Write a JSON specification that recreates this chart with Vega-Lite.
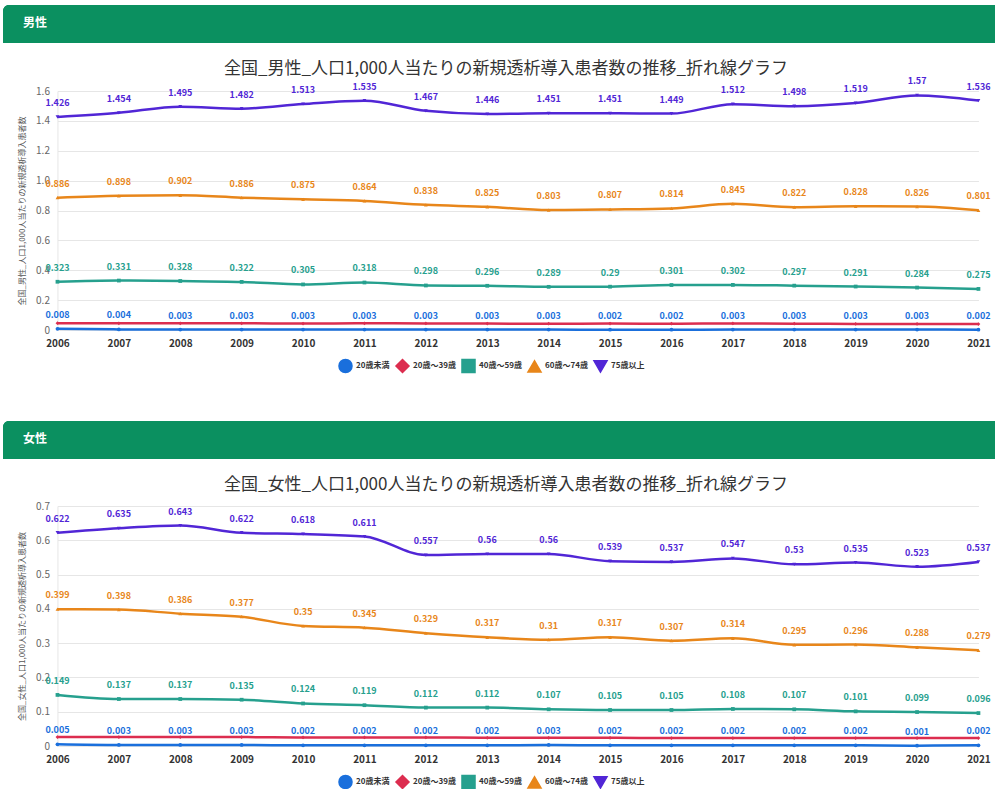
{
  "$schema": "https://vega.github.io/schema/vega-lite/v6.json",
  "background": "white",
  "padding": {"left": 3, "top": 5, "right": 0, "bottom": 0},
  "config": {
    "font": "Noto Sans CJK JP",
    "view": {"stroke": null},
    "legend": {"layout": {"bottom": {"anchor": "middle"}}}
  },
  "datasets": {
    "male": [
      {"year": "2006", "20歳未満": 0.008, "20歳～39歳": 0.046, "40歳～59歳": 0.323, "60歳～74歳": 0.886, "75歳以上": 1.426},
      {"year": "2007", "20歳未満": 0.004, "20歳～39歳": 0.045, "40歳～59歳": 0.331, "60歳～74歳": 0.898, "75歳以上": 1.454},
      {"year": "2008", "20歳未満": 0.003, "20歳～39歳": 0.045, "40歳～59歳": 0.328, "60歳～74歳": 0.902, "75歳以上": 1.495},
      {"year": "2009", "20歳未満": 0.003, "20歳～39歳": 0.045, "40歳～59歳": 0.322, "60歳～74歳": 0.886, "75歳以上": 1.482},
      {"year": "2010", "20歳未満": 0.003, "20歳～39歳": 0.043, "40歳～59歳": 0.305, "60歳～74歳": 0.875, "75歳以上": 1.513},
      {"year": "2011", "20歳未満": 0.003, "20歳～39歳": 0.045, "40歳～59歳": 0.318, "60歳～74歳": 0.864, "75歳以上": 1.535},
      {"year": "2012", "20歳未満": 0.003, "20歳～39歳": 0.044, "40歳～59歳": 0.298, "60歳～74歳": 0.838, "75歳以上": 1.467},
      {"year": "2013", "20歳未満": 0.003, "20歳～39歳": 0.043, "40歳～59歳": 0.296, "60歳～74歳": 0.825, "75歳以上": 1.446},
      {"year": "2014", "20歳未満": 0.003, "20歳～39歳": 0.042, "40歳～59歳": 0.289, "60歳～74歳": 0.803, "75歳以上": 1.451},
      {"year": "2015", "20歳未満": 0.002, "20歳～39歳": 0.043, "40歳～59歳": 0.29, "60歳～74歳": 0.807, "75歳以上": 1.451},
      {"year": "2016", "20歳未満": 0.002, "20歳～39歳": 0.042, "40歳～59歳": 0.301, "60歳～74歳": 0.814, "75歳以上": 1.449},
      {"year": "2017", "20歳未満": 0.003, "20歳～39歳": 0.044, "40歳～59歳": 0.302, "60歳～74歳": 0.845, "75歳以上": 1.512},
      {"year": "2018", "20歳未満": 0.003, "20歳～39歳": 0.042, "40歳～59歳": 0.297, "60歳～74歳": 0.822, "75歳以上": 1.498},
      {"year": "2019", "20歳未満": 0.003, "20歳～39歳": 0.041, "40歳～59歳": 0.291, "60歳～74歳": 0.828, "75歳以上": 1.519},
      {"year": "2020", "20歳未満": 0.003, "20歳～39歳": 0.041, "40歳～59歳": 0.284, "60歳～74歳": 0.826, "75歳以上": 1.57},
      {"year": "2021", "20歳未満": 0.002, "20歳～39歳": 0.04, "40歳～59歳": 0.275, "60歳～74歳": 0.801, "75歳以上": 1.536}
    ],
    "female": [
      {"year": "2006", "20歳未満": 0.005, "20歳～39歳": 0.026, "40歳～59歳": 0.149, "60歳～74歳": 0.399, "75歳以上": 0.622},
      {"year": "2007", "20歳未満": 0.003, "20歳～39歳": 0.026, "40歳～59歳": 0.137, "60歳～74歳": 0.398, "75歳以上": 0.635},
      {"year": "2008", "20歳未満": 0.003, "20歳～39歳": 0.026, "40歳～59歳": 0.137, "60歳～74歳": 0.386, "75歳以上": 0.643},
      {"year": "2009", "20歳未満": 0.003, "20歳～39歳": 0.026, "40歳～59歳": 0.135, "60歳～74歳": 0.377, "75歳以上": 0.622},
      {"year": "2010", "20歳未満": 0.002, "20歳～39歳": 0.025, "40歳～59歳": 0.124, "60歳～74歳": 0.35, "75歳以上": 0.618},
      {"year": "2011", "20歳未満": 0.002, "20歳～39歳": 0.025, "40歳～59歳": 0.119, "60歳～74歳": 0.345, "75歳以上": 0.611},
      {"year": "2012", "20歳未満": 0.002, "20歳～39歳": 0.025, "40歳～59歳": 0.112, "60歳～74歳": 0.329, "75歳以上": 0.557},
      {"year": "2013", "20歳未満": 0.002, "20歳～39歳": 0.024, "40歳～59歳": 0.112, "60歳～74歳": 0.317, "75歳以上": 0.56},
      {"year": "2014", "20歳未満": 0.003, "20歳～39歳": 0.024, "40歳～59歳": 0.107, "60歳～74歳": 0.31, "75歳以上": 0.56},
      {"year": "2015", "20歳未満": 0.002, "20歳～39歳": 0.024, "40歳～59歳": 0.105, "60歳～74歳": 0.317, "75歳以上": 0.539},
      {"year": "2016", "20歳未満": 0.002, "20歳～39歳": 0.023, "40歳～59歳": 0.105, "60歳～74歳": 0.307, "75歳以上": 0.537},
      {"year": "2017", "20歳未満": 0.002, "20歳～39歳": 0.023, "40歳～59歳": 0.108, "60歳～74歳": 0.314, "75歳以上": 0.547},
      {"year": "2018", "20歳未満": 0.002, "20歳～39歳": 0.023, "40歳～59歳": 0.107, "60歳～74歳": 0.295, "75歳以上": 0.53},
      {"year": "2019", "20歳未満": 0.002, "20歳～39歳": 0.023, "40歳～59歳": 0.101, "60歳～74歳": 0.296, "75歳以上": 0.535},
      {"year": "2020", "20歳未満": 0.001, "20歳～39歳": 0.023, "40歳～59歳": 0.099, "60歳～74歳": 0.288, "75歳以上": 0.523},
      {"year": "2021", "20歳未満": 0.002, "20歳～39歳": 0.023, "40歳～59歳": 0.096, "60歳～74歳": 0.279, "75歳以上": 0.537}
    ],
    "hdr1": [{"label": "男性"}],
    "hdr2": [{"label": "女性"}]
  },
  "spacing": 45,
  "center": true,
  "resolve": {"scale": {"color": "independent", "shape": "independent", "y": "independent", "x": "independent"}, "legend": {"color": "independent", "shape": "independent"}},
  "vconcat": [
    {
      "spacing": 17,
      "center": true,
      "vconcat": [
        {
          "width": 1042, "height": 38,
          "data": {"name": "hdr1"},
          "view": {"fill": "#0b9060", "stroke": null, "cornerRadius": 6},
          "title": {"text": "男性", "anchor": "start", "frame": "group", "offset": -25, "dx": 20, "color": "white", "fontSize": 12, "fontWeight": "bold"},
          "mark": {"type": "bar", "color": "#0b9060", "cornerRadiusTopLeft": 6, "cornerRadiusTopRight": 6},
          "encoding": {}
        },
        {
          "width": 921, "height": 239,
          "title": {"text": "全国_男性_人口1,000人当たりの新規透析導入患者数の推移_折れ線グラフ", "fontSize": 17, "fontWeight": "normal", "color": "#333333", "offset": -1, "dx": -12},
          "data": {"name": "male"},
          "transform": [{"fold": ["20歳未満", "20歳～39歳", "40歳～59歳", "60歳～74歳", "75歳以上"], "as": ["group", "value"]}],
          "encoding": {
            "x": {"field": "year", "type": "ordinal", "scale": {"type": "point", "padding": 0},
                  "axis": {"title": null, "labelAngle": 0, "labelFontSize": 10, "labelColor": "#333333", "labelFontWeight": "bold", "ticks": false, "domain": false, "grid": false, "labelPadding": 8}},
            "y": {"field": "value", "type": "quantitative", "scale": {"domain": [0, 1.6], "nice": false},
                  "axis": {"title": [" ", "全国_男性_人口1,000人当たりの新規透析導入患者数"], "titleLineHeight": 15, "titleFontSize": 8, "titleFontWeight": "normal", "titleColor": "#555555", "titlePadding": 9,
                           "values": [0, 0.2, 0.4, 0.6, 0.8, 1.0, 1.2, 1.4, 1.6], "labelExpr": "datum.value == 0 ? '0' : format(datum.value, '.1f')",
                           "labelFontSize": 10, "labelColor": "#666666", "ticks": false, "domain": true, "domainColor": "#e6e6e6", "gridColor": "#e6e6e6", "labelPadding": 8}},
            "color": {"field": "group", "type": "nominal",
                      "scale": {"domain": ["20歳未満", "20歳～39歳", "40歳～59歳", "60歳～74歳", "75歳以上"], "range": ["#1a6fdc", "#dc2d4f", "#26a08e", "#e8861a", "#5126d6"]},
                      "legend": {"title": " ", "titleOrient": "right", "titlePadding": 66, "orient": "bottom", "direction": "horizontal", "labelFontSize": 8, "labelFontWeight": "bold", "labelColor": "#333333", "labelOffset": 3, "symbolSize": 170, "columnPadding": 2, "offset": 10}}
          },
          "layer": [
            {"mark": {"type": "line", "interpolate": "monotone", "strokeWidth": 2.5}},
            {"mark": {"type": "point", "filled": true, "size": 14, "opacity": 1},
             "encoding": {"shape": {"field": "group", "type": "nominal", "scale": {"domain": ["20歳未満", "20歳～39歳", "40歳～59歳", "60歳～74歳", "75歳以上"], "range": ["circle", "diamond", "square", "triangle-up", "triangle-down"]},
                                    "legend": {"title": " ", "titleOrient": "right", "titlePadding": 66, "orient": "bottom", "direction": "horizontal", "labelFontSize": 8, "labelFontWeight": "bold", "labelColor": "#333333", "labelOffset": 3, "symbolSize": 170, "columnPadding": 2, "offset": 10}}}},
            {"transform": [{"filter": "datum.group != '20歳～39歳'"}],
             "mark": {"type": "text", "dy": -14, "fontSize": 9, "fontWeight": "bold"},
             "encoding": {"text": {"field": "value", "type": "quantitative"}}}
          ]
        }
      ]
    },
    {
      "spacing": 17,
      "center": true,
      "vconcat": [
        {
          "width": 1042, "height": 38,
          "data": {"name": "hdr2"},
          "view": {"fill": "#0b9060", "stroke": null, "cornerRadius": 6},
          "title": {"text": "女性", "anchor": "start", "frame": "group", "offset": -25, "dx": 20, "color": "white", "fontSize": 12, "fontWeight": "bold"},
          "mark": {"type": "bar", "color": "#0b9060", "cornerRadiusTopLeft": 6, "cornerRadiusTopRight": 6},
          "encoding": {}
        },
        {
          "width": 921, "height": 240,
          "title": {"text": "全国_女性_人口1,000人当たりの新規透析導入患者数の推移_折れ線グラフ", "fontSize": 17, "fontWeight": "normal", "color": "#333333", "offset": 7, "dx": -12},
          "data": {"name": "female"},
          "transform": [{"fold": ["20歳未満", "20歳～39歳", "40歳～59歳", "60歳～74歳", "75歳以上"], "as": ["group", "value"]}],
          "encoding": {
            "x": {"field": "year", "type": "ordinal", "scale": {"type": "point", "padding": 0},
                  "axis": {"title": null, "labelAngle": 0, "labelFontSize": 10, "labelColor": "#333333", "labelFontWeight": "bold", "ticks": false, "domain": false, "grid": false, "labelPadding": 8}},
            "y": {"field": "value", "type": "quantitative", "scale": {"domain": [0, 0.7], "nice": false},
                  "axis": {"title": [" ", "全国_女性_人口1,000人当たりの新規透析導入患者数"], "titleLineHeight": 15, "titleFontSize": 8, "titleFontWeight": "normal", "titleColor": "#555555", "titlePadding": 9,
                           "values": [0, 0.1, 0.2, 0.3, 0.4, 0.5, 0.6, 0.7], "labelExpr": "datum.value == 0 ? '0' : format(datum.value, '.1f')",
                           "labelFontSize": 10, "labelColor": "#666666", "ticks": false, "domain": true, "domainColor": "#e6e6e6", "gridColor": "#e6e6e6", "labelPadding": 8}},
            "color": {"field": "group", "type": "nominal",
                      "scale": {"domain": ["20歳未満", "20歳～39歳", "40歳～59歳", "60歳～74歳", "75歳以上"], "range": ["#1a6fdc", "#dc2d4f", "#26a08e", "#e8861a", "#5126d6"]},
                      "legend": {"title": " ", "titleOrient": "right", "titlePadding": 66, "orient": "bottom", "direction": "horizontal", "labelFontSize": 8, "labelFontWeight": "bold", "labelColor": "#333333", "labelOffset": 3, "symbolSize": 170, "columnPadding": 2, "offset": 10}}
          },
          "layer": [
            {"mark": {"type": "line", "interpolate": "monotone", "strokeWidth": 2.5}},
            {"mark": {"type": "point", "filled": true, "size": 14, "opacity": 1},
             "encoding": {"shape": {"field": "group", "type": "nominal", "scale": {"domain": ["20歳未満", "20歳～39歳", "40歳～59歳", "60歳～74歳", "75歳以上"], "range": ["circle", "diamond", "square", "triangle-up", "triangle-down"]},
                                    "legend": {"title": " ", "titleOrient": "right", "titlePadding": 66, "orient": "bottom", "direction": "horizontal", "labelFontSize": 8, "labelFontWeight": "bold", "labelColor": "#333333", "labelOffset": 3, "symbolSize": 170, "columnPadding": 2, "offset": 10}}}},
            {"transform": [{"filter": "datum.group != '20歳～39歳'"}],
             "mark": {"type": "text", "dy": -14, "fontSize": 9, "fontWeight": "bold"},
             "encoding": {"text": {"field": "value", "type": "quantitative"}}}
          ]
        }
      ]
    }
  ]
}
